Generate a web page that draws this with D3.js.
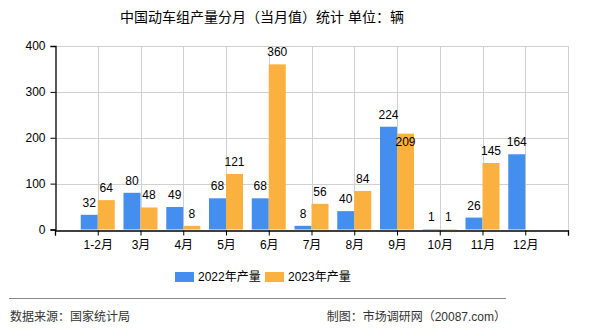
<!DOCTYPE html>
<html><head><meta charset="utf-8">
<script src="https://cdn.jsdelivr.net/npm/d3@7"></script>
<style>body{margin:0;background:#fff}svg{display:block}text{font-family:"Liberation Sans","Noto Sans CJK SC",sans-serif}</style>
</head><body><svg id="c" width="590" height="330"></svg>
<script>
const categories = ["1-2月","3月","4月","5月","6月","7月","8月","9月","10月","11月","12月"];
const series2022 = [32,80,49,68,68,8,40,224,1,26,164];
const series2023 = [64,48,8,121,360,56,84,209,1,145,null];
const seriesNames = ["2022年产量","2023年产量"];
const colors = ["#448EF0","#FBB13F"];
const yTicks = [0,100,200,300,400];
const title = "中国动车组产量分月（当月值）统计 单位：辆";
const source = "数据来源：国家统计局";
const maker = "制图：市场调研网（20087.com）";

const svg = d3.select("#c");
const L=55,R=568,T=46,B=229.5;
const x = d3.scaleLinear().domain([0,categories.length+1]).range([L,R]);
const y = d3.scaleLinear().domain([0,400]).range([B,T]);
const bw = 17;

svg.append("text").attr("x",262).attr("y",22).attr("text-anchor","middle").attr("font-size",14).attr("fill","#000").text(title);

// grid
const g = svg.append("g");
g.selectAll("line.h").data(yTicks.slice(1)).join("line").attr("x1",L).attr("x2",R).attr("y1",d=>Math.round(y(d))+0.5).attr("y2",d=>Math.round(y(d))+0.5).attr("stroke","#d0d0d0");
g.selectAll("line.v").data(d3.range(1,categories.length+2)).join("line").attr("x1",d=>Math.round(x(d))+0.5).attr("x2",d=>Math.round(x(d))+0.5).attr("y1",T).attr("y2",B).attr("stroke","#d0d0d0");

// bars
const data = categories.map((c,i)=>({c,i,v:[series2022[i],series2023[i]]}));
[0,1].forEach(s=>{
  svg.append("g").selectAll("rect").data(data.filter(d=>d.v[s]!=null)).join("rect")
    .attr("x",d=>x(d.i+1)+(s===0?-bw:0)).attr("width",bw)
    .attr("y",d=>y(d.v[s])).attr("height",d=>B-y(d.v[s])).attr("fill",colors[s]);
});

// labels (avoid overlap between paired labels)
const tw = v => String(v).length*6.7;
data.forEach(d=>{
  const ya = d.v[0]!=null ? y(d.v[0])-8 : null;
  let yb = d.v[1]!=null ? y(d.v[1])-8 : null;
  if(ya!=null && yb!=null && Math.abs(ya-yb)<14 && (tw(d.v[0])+tw(d.v[1]))/2 > bw) yb = y(d.v[1])+12;
  if(ya!=null) svg.append("text").attr("x",x(d.i+1)-bw/2).attr("y",ya).attr("text-anchor","middle").attr("font-size",12).text(d.v[0]);
  if(yb!=null) svg.append("text").attr("x",x(d.i+1)+bw/2).attr("y",yb).attr("text-anchor","middle").attr("font-size",12).text(d.v[1]);
});

// axes
const ax = svg.append("g").attr("transform",`translate(0,${Math.round(B)+0.5})`)
  .call(d3.axisBottom(x).tickValues(d3.range(0,categories.length+2)).tickSize(5).tickFormat(d=>categories[d-1]||""));
ax.select(".domain").attr("stroke","#000").attr("stroke-width",1.3);
ax.selectAll("text").attr("font-size",12).attr("dy","0.9em").attr("fill","#000");
const ay = svg.append("g").attr("transform",`translate(${L+0.5},0)`)
  .call(d3.axisLeft(y).tickValues(yTicks).tickSize(5).tickPadding(5));
ay.select(".domain").attr("stroke","#000").attr("stroke-width",1.3);
ay.selectAll("text").attr("font-size",12).attr("fill","#000");

// legend
const lx=[175,265];
seriesNames.forEach((n,i)=>{
  svg.append("rect").attr("x",lx[i]).attr("y",272).attr("width",19).attr("height",10).attr("fill",colors[i]);
  svg.append("text").attr("x",lx[i]+23).attr("y",281).attr("font-size",12).text(n);
});

svg.append("line").attr("x1",9).attr("x2",506).attr("y1",298.5).attr("y2",298.5).attr("stroke","#888").attr("stroke-width",1.2);
svg.append("text").attr("x",10).attr("y",321).attr("font-size",12).attr("fill","#333").text(source);
svg.append("text").attr("x",506).attr("y",321).attr("text-anchor","end").attr("font-size",12).attr("fill","#333").text(maker);
</script></body></html>
